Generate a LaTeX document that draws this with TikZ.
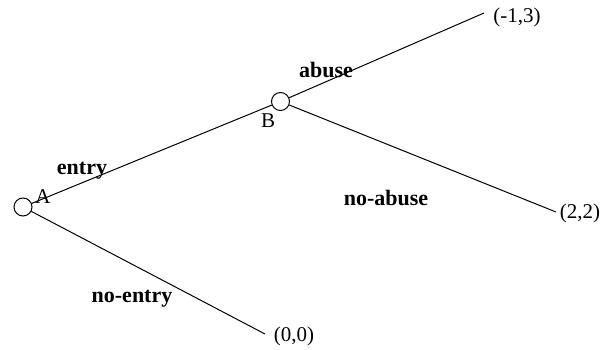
\documentclass[tikz,border=0pt]{standalone}
\usepackage{fontspec}
\setmainfont{Liberation Serif}
\begin{document}
\begin{tikzpicture}[x=1pt,y=-1pt,
  gnode/.style={circle,draw,line width=1pt,minimum size=18pt,inner sep=0pt},
  edge/.style={line width=1pt},
  lbl/.style={font=\fontsize{22}{26}\selectfont\bfseries,inner sep=0pt},
  pay/.style={font=\fontsize{21}{25}\selectfont,inner sep=0pt},
  nm/.style={font=\fontsize{21}{25}\selectfont,inner sep=0pt}]
\useasboundingbox (0,0) rectangle (612,350);
\node[gnode] (A) at (23,207) {};
\node[gnode] (B) at (280.5,101.5) {};
\coordinate (e1) at (484,13);
\coordinate (e2) at (556,212);
\coordinate (e3) at (265,334);
\draw[edge] (A) -- (B);
\draw[edge] (B) -- (e1);
\draw[edge] (B) -- (e2);
\draw[edge] (A) -- (e3);
\node[nm] (la) at (43,197) {A};
\node[nm] (lb) at (268,121) {B};
\node[lbl] (entry) at (82,171) {entry};
\node[lbl] (abuse) at (326,70) {abuse};
\node[lbl] (noabuse) at (386,198) {no-abuse};
\node[lbl] (noentry) at (132,299) {no-entry};
\node[pay] (p1) at (517,17) {(-1,3)};
\node[pay] (p2) at (580,213) {(2,2)};
\node[pay] (p3) at (294,336) {(0,0)};
\end{tikzpicture}
\end{document}
